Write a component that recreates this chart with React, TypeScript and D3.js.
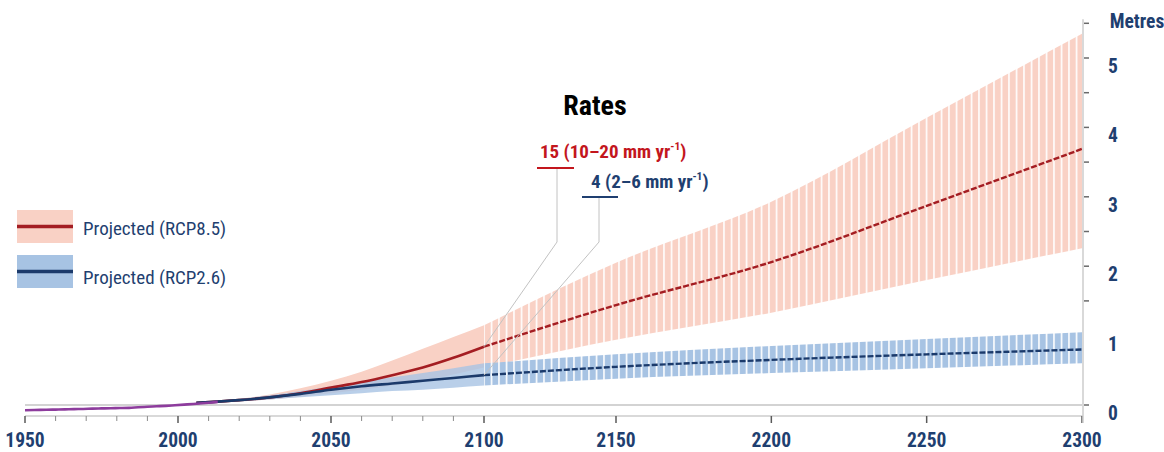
import React from "react";
import * as d3 from "d3";

// Observed global mean sea level (m, relative to 2000)
const histYears = [1950, 1953, 1957, 1960, 1963, 1966, 1969, 1972, 1975, 1978, 1981, 1984, 1987, 1990, 1993, 1996, 1999, 2002, 2005, 2008, 2011, 2013];
const histLevel = [-0.075, -0.072, -0.069, -0.066, -0.063, -0.059, -0.057, -0.052, -0.049, -0.046, -0.044, -0.041, -0.033, -0.026, -0.019, -0.012, -0.003, 0.006, 0.015, 0.025, 0.037, 0.045];

// Projected sea-level rise (m)
const projYears = [2006, 2020, 2030, 2040, 2050, 2060, 2070, 2080, 2090, 2100, 2150, 2200, 2250, 2300];
const rcp85Median = [0.03, 0.07, 0.11, 0.17, 0.25, 0.33, 0.43, 0.54, 0.68, 0.84, 1.44, 2.06, 2.87, 3.69];
const rcp85Low = [0.02, 0.05, 0.08, 0.12, 0.17, 0.22, 0.28, 0.35, 0.44, 0.54, 0.94, 1.33, 1.8, 2.26];
const rcp85High = [0.04, 0.09, 0.15, 0.24, 0.35, 0.48, 0.64, 0.81, 0.98, 1.15, 2.05, 2.93, 4.14, 5.35];
const rcp26Median = [0.03, 0.07, 0.11, 0.16, 0.22, 0.27, 0.31, 0.35, 0.39, 0.43, 0.55, 0.65, 0.73, 0.8];
const rcp26Low = [0.02, 0.05, 0.08, 0.11, 0.14, 0.17, 0.2, 0.22, 0.25, 0.28, 0.38, 0.46, 0.53, 0.6];
const rcp26High = [0.04, 0.09, 0.14, 0.2, 0.27, 0.34, 0.4, 0.46, 0.53, 0.6, 0.73, 0.85, 0.95, 1.05];

// Year at which the projections switch from the 21st-century band to the extended band
const splitYear = 2100;

const xMajorTicks = [1950, 2000, 2050, 2100, 2150, 2200, 2250, 2300];
const xMinorTicks = [1960, 1970, 1980, 1990, 2010, 2020, 2030, 2040, 2060, 2070, 2080, 2090];
const yTickValues = [0, 1.5, 2, 2.5, 3, 3.5, 4, 4.5, 5, 5.5];
const yTickLabels = [0, 1, 2, 3, 4, 5];

const legendLabels = ["Projected (RCP8.5)", "Projected (RCP2.6)"];
const rateTitle = "Rates";
const rate85 = { value: "15", range: "(10–20 mm yr" };
const rate26 = { value: "4", range: "(2–6 mm yr" };

const PINK = "#f9d1c5";
const BLUE = "#a7c3e3";
const RED = "#a41d22";
const NAVY = "#1b3a6b";
const PURPLE = "#8d3c9d";
const TEXT_NAVY = "#1f3f70";
const TEXT_RED = "#c3161d";
const FONT = "'Liberation Sans Narrow', 'Arial Narrow', 'Roboto Condensed', sans-serif";

type Row = { yr: number; m85: number; lo85: number; hi85: number; m26: number; lo26: number; hi26: number };

export default function App() {
  const x = d3.scaleLinear().domain([1950, 2100, 2150, 2300]).range([25, 484, 616, 1082]);
  const y = d3.scaleLinear().domain([0, 5.5]).range([405, 23.3]);

  const rows: Row[] = projYears.map((yr, i) => ({
    yr,
    m85: rcp85Median[i],
    lo85: rcp85Low[i],
    hi85: rcp85High[i],
    m26: rcp26Median[i],
    lo26: rcp26Low[i],
    hi26: rcp26High[i],
  }));
  const early = rows.filter((r) => r.yr <= splitYear);
  const late = rows.filter((r) => r.yr >= splitYear);

  const band = (lo: (r: Row) => number, hi: (r: Row) => number) =>
    d3
      .area<Row>()
      .x((d) => x(d.yr))
      .y0((d) => y(lo(d)))
      .y1((d) => y(hi(d)))
      .curve(d3.curveMonotoneX);
  const band85 = band((r) => r.lo85, (r) => r.hi85);
  const band26 = band((r) => r.lo26, (r) => r.hi26);

  const line = (f: (r: Row) => number) =>
    d3
      .line<Row>()
      .x((d) => x(d.yr))
      .y((d) => y(f(d)))
      .curve(d3.curveMonotoneX);
  const line85 = line((r) => r.m85);
  const line26 = line((r) => r.m26);

  const histLine = d3
    .line<number>()
    .x((_, i) => x(histYears[i]))
    .y((d) => y(d))
    .curve(d3.curveMonotoneX);

  const xAxisY = 416;
  const yAxisX = x(2300) + 1;
  const xs = x(splitYear);
  const splitRow = rows.find((r) => r.yr === splitYear)!;

  // "yr⁻¹" superscript followed by the closing bracket
  const perYear = () => (
    <>
      <tspan fontSize={11.5} dy={-8}>
        -1
      </tspan>
      <tspan dy={8}>)</tspan>
    </>
  );

  return (
    <svg
      width={1164}
      height={452}
      style={{ position: "absolute", left: 0, top: 0, background: "#fff" }}
      fontFamily={FONT}
    >
      <defs>
        <pattern id="hatch85" patternUnits="userSpaceOnUse" x={xs - 0.8} y={0} width={7.5} height={10}>
          <rect width={7.5} height={10} fill={PINK} />
          <rect width={1.6} height={10} fill="#fff" />
        </pattern>
        <pattern id="hatch26" patternUnits="userSpaceOnUse" x={xs - 0.8} y={0} width={7.5} height={10}>
          <rect width={7.5} height={10} fill={BLUE} />
          <rect width={1.6} height={10} fill="#fff" />
        </pattern>
      </defs>

      {/* zero reference line */}
      <line x1={x(1950)} x2={yAxisX - 1} y1={y(0)} y2={y(0)} stroke="#c4c4c4" strokeWidth={1.5} />

      {/* uncertainty bands */}
      <path d={band85(early)!} fill={PINK} />
      <path d={band26(early)!} fill={BLUE} opacity={0.8} />
      <path d={band85(late)!} fill="url(#hatch85)" />
      <path d={band26(late)!} fill="url(#hatch26)" />

      {/* medians */}
      <path d={line85(early)!} fill="none" stroke={RED} strokeWidth={2.6} />
      <path d={line85(late)!} fill="none" stroke={RED} strokeWidth={2.4} strokeDasharray="6 2" />
      <path d={line26(early)!} fill="none" stroke={NAVY} strokeWidth={2.6} />
      <path d={line26(late)!} fill="none" stroke={NAVY} strokeWidth={2.4} strokeDasharray="6 2" />

      {/* observations */}
      <path d={histLine(histLevel)!} fill="none" stroke={PURPLE} strokeWidth={2.6} />

      {/* x axis */}
      <line x1={x(1950)} x2={yAxisX} y1={xAxisY} y2={xAxisY} stroke="#cdcdcd" strokeWidth={1.5} />
      {xMinorTicks.map((t) => (
        <line key={"mn" + t} x1={x(t)} x2={x(t)} y1={xAxisY} y2={xAxisY + 5} stroke="#8a8a8a" strokeWidth={1} />
      ))}
      {xMajorTicks.map((t) => (
        <g key={"mj" + t}>
          <line x1={x(t)} x2={x(t)} y1={xAxisY} y2={xAxisY + 7} stroke="#5a5a5a" strokeWidth={1.5} />
          <text x={x(t)} y={447} textAnchor="middle" fontSize={19.5} fontWeight="bold" fill={TEXT_NAVY}>
            {t}
          </text>
        </g>
      ))}

      {/* y axis */}
      <line x1={yAxisX} x2={yAxisX} y1={y(5.56)} y2={xAxisY + 7} stroke="#cdcdcd" strokeWidth={1.5} />
      {yTickValues.map((t) => (
        <line key={"yt" + t} x1={yAxisX + 1} x2={yAxisX + 6} y1={y(t)} y2={y(t)} stroke="#6a6a6a" strokeWidth={1.5} />
      ))}
      {yTickLabels.map((t) => (
        <text key={"yl" + t} x={1113} y={y(t) + 15} textAnchor="middle" fontSize={19.5} fontWeight="bold" fill={TEXT_NAVY}>
          {t}
        </text>
      ))}
      <text x={1137} y={28} textAnchor="middle" fontSize={19.5} fontWeight="bold" fill={TEXT_NAVY}>
        Metres
      </text>

      {/* legend */}
      <rect x={17} y={210} width={56} height={33} fill={PINK} />
      <line x1={17} x2={73} y1={226.5} y2={226.5} stroke={RED} strokeWidth={3.5} />
      <text x={83} y={235} fontSize={19} fill={TEXT_NAVY}>
        {legendLabels[0]}
      </text>
      <rect x={17} y={255} width={56} height={33} fill={BLUE} />
      <line x1={17} x2={73} y1={271.5} y2={271.5} stroke={NAVY} strokeWidth={3.5} />
      <text x={83} y={284} fontSize={19} fill={TEXT_NAVY}>
        {legendLabels[1]}
      </text>

      {/* rate annotations */}
      <text x={595} y={115} textAnchor="middle" fontSize={28} fontWeight="bold" fill="#000">
        {rateTitle}
      </text>
      <polyline
        points={`557,168 557,242 ${x(splitYear)},${y(splitRow.m85)}`}
        fill="none"
        stroke="#c2c2c2"
        strokeWidth={1}
      />
      <polyline
        points={`599,197 599,242 ${x(splitYear)},${y(splitRow.m26)}`}
        fill="none"
        stroke="#c2c2c2"
        strokeWidth={1}
      />
      <line x1={537} x2={574} y1={168} y2={168} stroke={TEXT_RED} strokeWidth={2} />
      <line x1={582} x2={618} y1={197} y2={197} stroke={TEXT_NAVY} strokeWidth={2} />
      <text x={540} y={158} fontSize={19} fontWeight="bold" fill={TEXT_RED}>
        {rate85.value} {rate85.range}
        {perYear()}
      </text>
      <text x={591} y={188} fontSize={19} fontWeight="bold" fill={TEXT_NAVY}>
        {rate26.value} {rate26.range}
        {perYear()}
      </text>
    </svg>
  );
}
